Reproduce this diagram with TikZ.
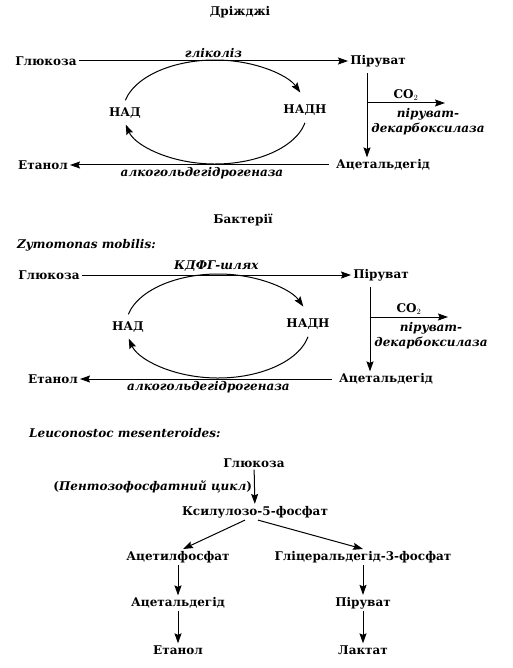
\documentclass[tikz,border=0pt]{standalone}
\usepackage{fontspec}
\setmainfont{DejaVu Serif}
\usepackage{tikz}
\usetikzlibrary{arrows.meta,calc}
\newcommand{\fsz}{\fontsize{12}{15}\selectfont}
\tikzset{
  lbl/.style={font=\fsz\bfseries, inner sep=2pt},
  enz/.style={font=\fsz\bfseries\itshape, inner sep=1pt},
  arr/.style={-{Stealth[length=10pt,width=7pt,inset=1.5pt]}, line width=1pt},
}
\begin{document}
\begin{tikzpicture}[x=1pt,y=1pt]
\useasboundingbox (0,0) rectangle (512,-668);

\node[lbl] (yeast) at (240,-12) {Дріжджі};
\node[lbl] (bact) at (243,-220) {Бактерії};
\node[enz, anchor=west] (zym) at (16,-245) {Zymomonas mobilis:};

\foreach \sx/\sy/\ex/\enzname/\i in {0/0/43/гліколіз/1,3/-214/53/КДФГ-шлях/2}{
\begin{scope}[shift={(\sx,\sy)}]
  \node[lbl] (glu\i) at (46,-61) {Глюкоза};
  \node[lbl] (pyr\i) at (378,-61) {Піруват};
  \node[lbl] (acet\i) at (383,-165) {Ацетальдегід};
  \node[lbl] (eth\i) at (\ex-\sx,-165) {Етанол};
  \node[lbl] (nad\i) at (125,-113) {НАД};
  \node[lbl] (nadh\i) at (305,-110) {НАДН};

  \draw[arr] (glu\i) -- node[enz,above=2pt] {\enzname} (pyr\i);
  \draw[arr,shorten <=5pt] (acet\i) -- node[enz,below=1pt] {алкогольдегідрогеназа} (eth\i);

  % NAD cycle
  \coordinate (cyc\i) at (215,-112);
  \draw[arr] ($(cyc\i)+(167:92 and 52)$) arc[start angle=167,end angle=22,x radius=92,y radius=52];
  \draw[arr] ($(cyc\i)+(-12:92 and 52)$) arc[start angle=-12,end angle=-166,x radius=92,y radius=52];

  % decarboxylation
  \draw[arr,shorten <=4pt] (pyr\i.south -| 367,0) -- (acet\i.north -| 367,0);
  \coordinate (fork\i) at (367,-103);
  \coordinate (co\i) at (445,-103);
  \draw[arr] (fork\i) -- node[lbl,above] {CO$_2$} (co\i);
  \node[enz,align=center] (pdc\i) at (428,-122) {піруват-\\декарбоксилаза};
\end{scope}
}

\node[enz, anchor=west] (leu) at (28,-433) {Leuconostoc mesenteroides:};
\node[lbl] (glu3) at (254,-463) {Глюкоза};
\node[lbl] (xyl) at (255,-512) {Ксилулозо-5-фосфат};
\node[lbl] (acp) at (178,-557) {Ацетилфосфат};
\node[lbl] (gap) at (363,-557) {Гліцеральдегід-3-фосфат};
\node[lbl] (ald) at (178,-603) {Ацетальдегід};
\node[lbl] (pyr3) at (363,-603) {Піруват};
\node[lbl] (eth3) at (178,-650) {Етанол};
\node[lbl] (lac) at (363,-650) {Лактат};

\draw[arr] (glu3) -- node[lbl,left=0pt] {(\textit{Пентозофосфатний цикл})} (xyl);
\draw[arr] ([xshift=-10pt]xyl.south) -- ([xshift=5pt]acp.north);
\draw[arr] ([xshift=3pt]xyl.south) -- (gap.north);
\draw[arr] (acp) -- (ald);
\draw[arr] (ald) -- (eth3);
\draw[arr] (gap) -- (pyr3);
\draw[arr] (pyr3) -- (lac);
\end{tikzpicture}
\end{document}
